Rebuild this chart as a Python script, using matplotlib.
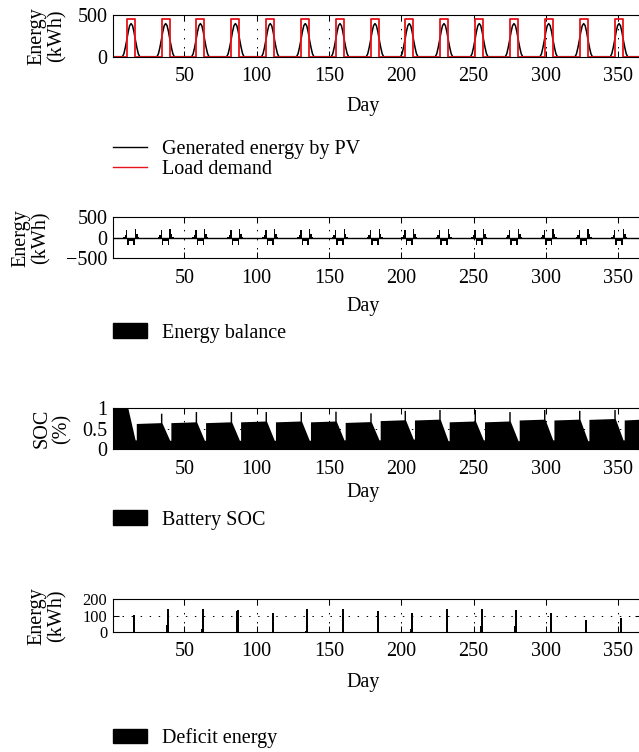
import numpy as np
import matplotlib
matplotlib.use("Agg")
import matplotlib.pyplot as plt
from matplotlib.lines import Line2D
from matplotlib.patches import Patch

plt.rcParams['font.family'] = ['Liberation Serif', 'DejaVu Serif']
plt.rcParams['mathtext.fontset'] = 'dejavuserif'
FS = 14.5

# ---------------- data ----------------
x_limits = (0.7, 365.7)
x_ticks = [50, 100, 150, 200, 250, 300, 350]

# centre (PV peak) of each daily cycle on the "Day" axis
cycle_peaks = [13.2, 37.1, 61.1, 85.3, 109.4, 133.6, 157.6, 181.8,
               205.5, 229.5, 253.9, 277.9, 301.9, 326.1, 350.5]

# generated PV energy around each peak
pv_offsets = [-6, -5, -4, -3, -2, -1, 0, 1, 2, 3, 4, 5, 6]
pv_values = [0, 35, 110, 200, 300, 375, 400, 375, 300, 200, 110, 35, 0]

# load demand block around each peak
load_start = -2.8
load_end = 2.7
load_level = 450

# energy balance bars around each peak
bal_offsets = [-5, -4, -3, -2, -1, 0, 1, 2, 3, 4, 5]
bal_values = [20, 65, 190, -165, -90, -80, -90, -165, 210, 100, 30]

# battery SOC per cycle
soc_top = [1.0, 0.88, 0.92, 0.92, 0.92, 0.92, 0.93, 0.89,
           0.95, 0.97, 0.97, 0.92, 0.97, 0.95, 0.97]
soc_valley = [0.23, 0.22, 0.22, 0.22, 0.22, 0.22, 0.23, 0.23,
              0.25, 0.21, 0.23, 0.21, 0.23, 0.21, 0.23]
soc_plateau = [0.63, 0.65, 0.65, 0.67, 0.67, 0.67, 0.655, 0.70,
               0.715, 0.67, 0.67, 0.715, 0.715, 0.73, 0.715]

# deficit energy bars
deficit_days = [15.0, 38.9, 63.1, 87.3, 111.5, 135.0, 159.5, 183.7,
                207.2, 231.6, 255.6, 279.3, 303.3, 327.5, 351.7]
deficit_main = [107, 139, 139, 133, 117, 139, 141, 127,
                119, 139, 139, 133, 117, 73, 87]
deficit_pre = [0, 42, 18, 128, 0, 6, 0, 0, 18, 0, 36, 36, 0, 0, 0]

# ---------------- figure ----------------
W, H = 639, 752
fig = plt.figure(figsize=(W / 100, H / 100), dpi=100)

panels_px = [(15.3, 56.7), (217.3, 258.3), (408.3, 449.3), (599.3, 632.0)]
left_px, right_px = 113, 641


def make_ax(top, bottom):
    ax = fig.add_axes([left_px / W, 1 - bottom / H,
                       (right_px - left_px) / W, (bottom - top) / H])
    ax.set_xlim(*x_limits)
    ax.set_xticks(x_ticks)
    ax.tick_params(direction='in', length=4, width=0.75, top=True,
                   right=True, labelsize=FS)
    ax.tick_params(axis='x', pad=7.5)
    ax.tick_params(axis='y', pad=4)
    for s in ax.spines.values():
        s.set_linewidth(0.8)
    ax.set_axisbelow(True)
    ax.grid(True, color='k', linestyle=(0, (1.5, 7.8)), linewidth=0.7)
    return ax


axes = [make_ax(t, b) for t, b in panels_px]

# panel 1: PV and load
ax = axes[0]
px, py = [x_limits[0]], [0]
lx, ly = [x_limits[0]], [0]
for p in cycle_peaks:
    px += [p + o for o in pv_offsets]
    py += pv_values
    lx += [p + load_start, p + load_start, p + load_end, p + load_end]
    ly += [0, load_level, load_level, 0]
px.append(x_limits[1]); py.append(0)
lx.append(x_limits[1]); ly.append(0)
ax.plot(px, py, color='k', lw=1.1)
ax.plot(lx, ly, color='#e8141b', lw=1.3)
ax.set_ylim(0, 500)
ax.set_yticks([0, 500])

# panel 2: energy balance
ax = axes[1]
for p in cycle_peaks:
    ax.bar([p + o for o in bal_offsets], bal_values, width=1.0,
           color='k', linewidth=0)
ax.axhline(0, color='k', lw=1.0)
ax.set_ylim(-500, 500)
ax.set_yticks([-500, 0, 500])

# panel 3: battery SOC
ax = axes[2]
sx, sy = [x_limits[0]], [soc_top[0]]
for k, p in enumerate(cycle_peaks):
    if k == 0:
        sx += [p - 2.2]
        sy += [soc_top[0]]
    else:
        sx += [p - 3.6, p - 3.6, p - 2.6, p - 2.6]
        sy += [soc_plateau[k - 1] + 0.02, soc_top[k], soc_top[k],
               soc_plateau[k - 1] + 0.02]
    sx += [p + 2.8, p + 3.6, p + 3.6]
    sy += [soc_valley[k], soc_valley[k], soc_plateau[k]]
sx.append(x_limits[1]); sy.append(soc_plateau[-1] + 0.02)
ax.fill_between(sx, 0, sy, color='k', linewidth=0)
ax.set_ylim(0, 1)
ax.set_yticks([0, 0.5, 1])
ax.set_yticklabels(['0', '0.5', '1'])

# panel 4: deficit energy
ax = axes[3]
ax.bar(deficit_days, deficit_main, width=1.2, color='k', linewidth=0)
ax.bar([d - 1.0 for d in deficit_days], deficit_pre, width=1.0,
       color='k', linewidth=0)
ax.set_ylim(0, 200)
ax.set_yticks([0, 100, 200])
ax.tick_params(axis='y', labelsize=11.8, pad=4)

# x labels
for y in [107, 306, 492, 683]:
    fig.text(363 / W, 1 - y / H, 'Day', ha='center', va='center', fontsize=FS)

# y labels
ylabels = ['Energy\n(kWh)', 'Energy\n(kWh)', 'SOC\n(%)', 'Energy\n(kWh)']
ylab_x = [47, 31, 52, 47]
for (t, b), lab, xc in zip(panels_px, ylabels, ylab_x):
    fig.text(xc / W, 1 - (t + b) / 2 / H, lab, rotation=90, ha='center',
             va='center', fontsize=FS, linespacing=1.0, multialignment='center')

# legends
leg_kw = dict(loc='center left', frameon=False, borderpad=0, borderaxespad=0,
              handlelength=1.7, handletextpad=0.75, labelspacing=0.06,
              fontsize=FS)
fig.legend([Line2D([], [], color='k', lw=1.0),
            Line2D([], [], color='#e8141b', lw=1.0)],
           ['Generated energy by PV', 'Load demand'],
           bbox_to_anchor=(left_px / W, 1 - 159.5 / H), **leg_kw)
for y, lab in [(333, 'Energy balance'), (520, 'Battery SOC'),
               (738, 'Deficit energy')]:
    fig.legend([Patch(facecolor='k', edgecolor='k')], [lab],
               bbox_to_anchor=(left_px / W, 1 - y / H), **leg_kw)

fig.savefig('out.png', dpi=100)
